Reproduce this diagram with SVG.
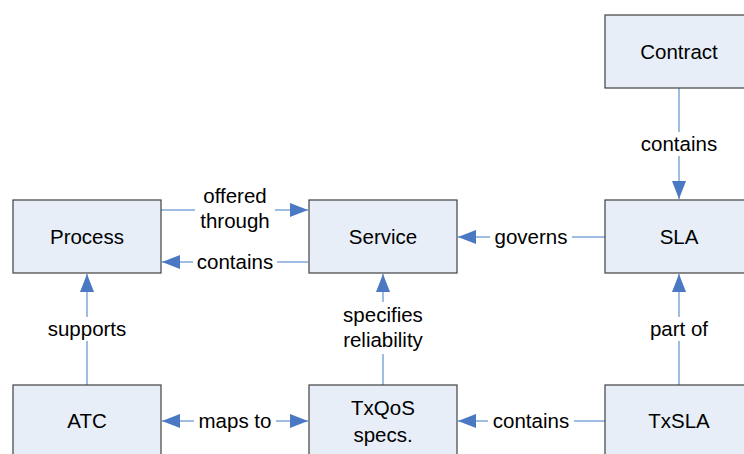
<svg xmlns="http://www.w3.org/2000/svg" width="744" height="454" viewBox="0 0 744 454">
<style>
.box{fill:#E8EEF8;stroke:#404040;stroke-width:1.2}
.t{font-family:"Liberation Sans",Arial,sans-serif;font-size:20.5px;fill:#000;text-anchor:middle}
.c{stroke:#7FA6DA;stroke-width:1.5;fill:none}
.lbg{fill:#fff}
</style>
<defs>
<marker id="ah" viewBox="0 0 18 14" refX="18" refY="7" markerWidth="18" markerHeight="14" markerUnits="userSpaceOnUse" orient="auto-start-reverse">
<path d="M0,0 L18,7 L0,14 Z" fill="#4A78C2"/>
</marker>
</defs>
<rect width="744" height="454" fill="#fff"/>
<g id="connectors">
<line class="c" x1="161" y1="210" x2="308" y2="210" marker-end="url(#ah)"/>
<line class="c" x1="308" y1="262" x2="162" y2="262" marker-end="url(#ah)"/>
<line class="c" x1="605" y1="237" x2="458" y2="237" marker-end="url(#ah)"/>
<line class="c" x1="679" y1="88" x2="679" y2="199" marker-end="url(#ah)"/>
<line class="c" x1="87" y1="385" x2="87" y2="274" marker-end="url(#ah)"/>
<line class="c" x1="383" y1="385" x2="383" y2="274" marker-end="url(#ah)"/>
<line class="c" x1="679" y1="385" x2="679" y2="274" marker-end="url(#ah)"/>
<line class="c" x1="162" y1="421" x2="308" y2="421" marker-start="url(#ah)" marker-end="url(#ah)"/>
<line class="c" x1="605" y1="421" x2="458" y2="421" marker-end="url(#ah)"/>
<rect class="lbg" x="195" y="183" width="80" height="52"/>
<text class="t" x="235" y="203">offered</text>
<text class="t" x="235" y="228">through</text>
<rect class="lbg" x="193" y="251" width="84" height="22"/>
<text class="t" x="235" y="269">contains</text>
<rect class="lbg" x="490" y="226" width="82" height="22"/>
<text class="t" x="531" y="244">governs</text>
<rect class="lbg" x="636" y="132" width="86" height="24"/>
<text class="t" x="679" y="151">contains</text>
<rect class="lbg" x="40" y="317" width="94" height="24"/>
<text class="t" x="87" y="336">supports</text>
<rect class="lbg" x="336" y="302" width="94" height="52"/>
<text class="t" x="383" y="322">specifies</text>
<text class="t" x="383" y="347">reliability</text>
<rect class="lbg" x="644" y="317" width="70" height="24"/>
<text class="t" x="679" y="336">part of</text>
<rect class="lbg" x="194" y="410" width="82" height="22"/>
<text class="t" x="235" y="428">maps to</text>
<rect class="lbg" x="488" y="410" width="86" height="22"/>
<text class="t" x="531" y="428">contains</text>
</g>
<g id="contract"><rect class="box" x="605" y="15" width="148" height="73"/><text class="t" x="679" y="59">Contract</text></g>
<g id="process"><rect class="box" x="13" y="200" width="148" height="73"/><text class="t" x="87" y="244">Process</text></g>
<g id="service"><rect class="box" x="309" y="200" width="148" height="73"/><text class="t" x="383" y="244">Service</text></g>
<g id="sla"><rect class="box" x="605" y="200" width="148" height="73"/><text class="t" x="679" y="244">SLA</text></g>
<g id="atc"><rect class="box" x="13" y="385" width="148" height="73"/><text class="t" x="87" y="428">ATC</text></g>
<g id="txqos"><rect class="box" x="309" y="385" width="148" height="73"/><text class="t" x="383" y="415">TxQoS</text><text class="t" x="383" y="442">specs.</text></g>
<g id="txsla"><rect class="box" x="605" y="385" width="148" height="73"/><text class="t" x="679" y="428">TxSLA</text></g>
</svg>
